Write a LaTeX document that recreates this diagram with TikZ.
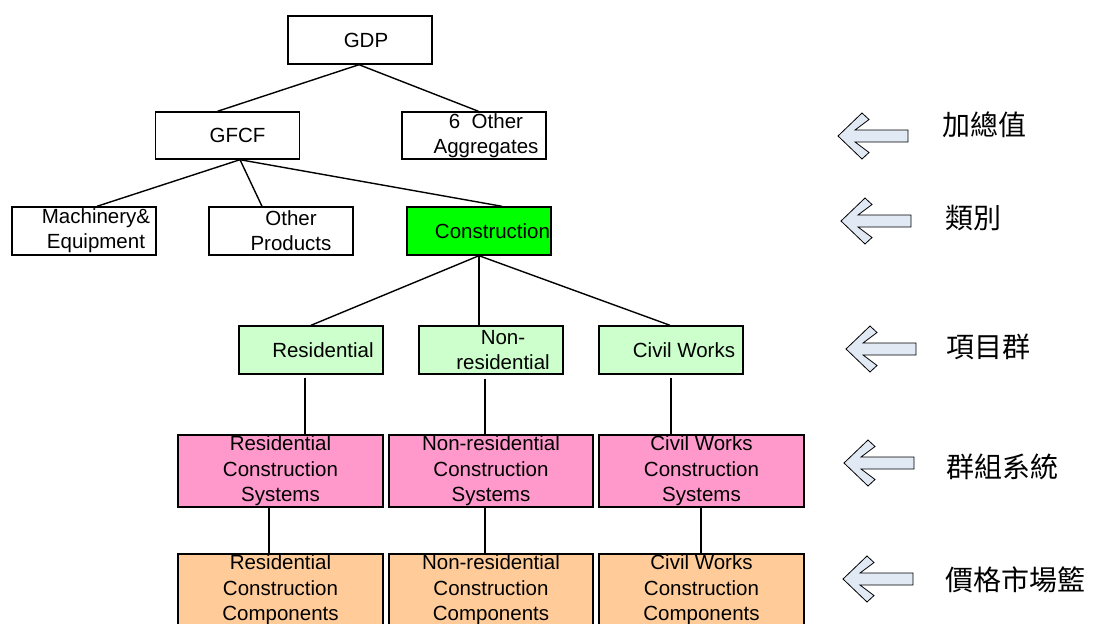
\documentclass[tikz,border=0pt]{standalone}
\usepackage{fontspec}
\setmainfont{Liberation Sans}
\newfontfamily\cjk{Noto Sans CJK TC}
\definecolor{consgreen}{HTML}{00FF00}
\definecolor{lightgreen}{HTML}{CCFFCC}
\definecolor{pinkfill}{HTML}{FF99CC}
\definecolor{orangefill}{HTML}{FFCC99}
\definecolor{arrowfill}{HTML}{E1E9F4}
\begin{document}
\begin{tikzpicture}[x=1pt,y=-1pt,
  box/.style={draw, line width=1.4pt, inner sep=0pt, align=center,
    font=\fontsize{20.5}{25}\selectfont},
  small/.style={box, minimum width=144pt, minimum height=48pt},
  big/.style={box, minimum width=205pt, minimum height=72pt, font=\fontsize{20.5}{25.5}\selectfont},
  ln/.style={line width=1.4pt},
  lbl/.style={font=\cjk\fontsize{28}{32}\selectfont, anchor=west, inner sep=0pt},
  blockarrow/.style={draw, line width=0.8pt, fill=arrowfill, line join=miter},
  larrow/.pic={\draw[blockarrow] (0,0) -- (24,-23) -- (31,-16.5) -- (17,-6) -- (70,-6)
     -- (70,6) -- (17,6) -- (31,16.5) -- (24,23) -- cycle;}
]
\useasboundingbox (0,0) rectangle (1096,624);

% level 1-3
\node[small] (gdp) at (360,40) {\hspace*{12pt}GDP};
\node[small, minimum height=47pt] (gfcf) at (227.5,135.5) {\hspace*{20pt}GFCF};
\node[small, minimum height=47pt] (oth6) at (474,135.5) {\hspace*{24pt}6\ \ Other\\\hspace*{24pt}Aggregates};
\node[small] (mach) at (84,231) {\hspace*{24pt}Machinery\&\\\hspace*{24pt}Equipment};
\node[small] (othp) at (281,231) {\hspace*{20pt}Other\\\hspace*{20pt}Products};
\node[small, fill=consgreen] (cons) at (479,231) {\hspace*{27pt}Construction};

% level 4
\node[small, fill=lightgreen] (res) at (311,350) {\hspace*{24pt}Residential};
\node[small, fill=lightgreen] (nonres) at (491,350) {\hspace*{24pt}Non-\\\hspace*{24pt}residential};
\node[small, fill=lightgreen] (civil) at (671,350) {\hspace*{26pt}Civil Works};

% level 5
\node[big, fill=pinkfill] (resS) at (280.5,471) {Residential\\Construction\\Systems};
\node[big, fill=pinkfill, minimum width=204pt] (nonS) at (491,471) {Non-residential\\Construction\\Systems};
\node[big, fill=pinkfill] (civS) at (701.5,471) {Civil Works\\Construction\\Systems};

% level 6
\node[big, fill=orangefill] (resC) at (280.5,590) {Residential\\Construction\\Components};
\node[big, fill=orangefill, minimum width=204pt] (nonC) at (491,590) {Non-residential\\Construction\\Components};
\node[big, fill=orangefill] (civC) at (701.5,590) {Civil Works\\Construction\\Components};

% connectors
\draw[ln] ([xshift=-1pt]gdp.south) -- ([xshift=-10pt]gfcf.north);
\draw[ln] ([xshift=-1pt]gdp.south) -- ([xshift=4.5pt]oth6.north);
\draw[ln] ([xshift=12.5pt]gfcf.south) -- ([xshift=13pt]mach.north);
\draw[ln] ([xshift=12.5pt]gfcf.south) -- ([xshift=-19pt]othp.north);
\draw[ln] ([xshift=12.5pt]gfcf.south) -- ([xshift=23pt]cons.north);
\draw[ln] (cons.south) -- (res.north);
\draw[ln] (cons.south) -- ([xshift=-12pt]nonres.north);
\draw[ln] (cons.south) -- ([xshift=-1pt]civil.north);
\draw[ln] ([xshift=-6pt,yshift=-3pt]res.south) -- ([xshift=-6pt]res.south |- resS.north);
\draw[ln] ([xshift=-6pt,yshift=-4pt]nonres.south) -- ([xshift=-6pt]nonres.south |- nonS.north);
\draw[ln] ([yshift=-3pt]civil.south) -- (civil.south |- civS.north);
\draw[ln] ([xshift=-11.5pt]resS.south) -- ([xshift=-11.5pt]resS.south |- resC.north);
\draw[ln] ([xshift=-6pt]nonS.south) -- ([xshift=-6pt]nonS.south |- nonC.north);
\draw[ln] ([xshift=-0.5pt]civS.south) -- ([xshift=-0.5pt]civC.north);

% level arrows and labels
\pic at (838,136) {larrow};
\pic at (841,221) {larrow};
\pic at (846,349) {larrow};
\pic at (844,463) {larrow};
\pic at (843,579) {larrow};
\node[lbl] (l1) at (942,125) {加總值};
\node[lbl] (l2) at (945,218) {類別};
\node[lbl] (l3) at (946,347) {項目群};
\node[lbl] (l4) at (946,467) {群組系統};
\node[lbl] (l5) at (945,580) {價格市場籃};
\end{tikzpicture}
\end{document}
